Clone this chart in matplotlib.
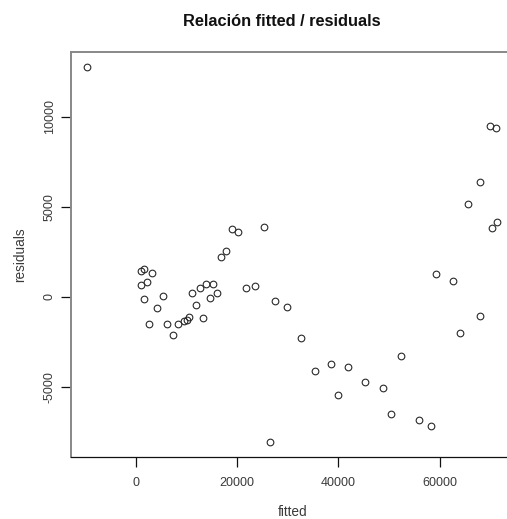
import numpy as np
import matplotlib
matplotlib.use("Agg")
import matplotlib.pyplot as plt

plt.rcParams["font.family"] = ["Liberation Sans", "DejaVu Sans"]

# Fitted values and residuals of the model
fitted = [-9535, 1066, 1579, 3237, 1066, 2250, 1579, 5330, 4145, 2566,
          6258, 7383, 8370, 9475, 10146, 10462, 11923, 13364, 11054, 12713,
          13956, 15279, 14608, 16128, 16858, 17845, 18950, 20273, 25405, 21714,
          23491, 27518, 29886, 26590, 32650, 35414, 38631, 41849, 39875, 45283,
          48758, 52449, 50337, 56003, 58234, 59359, 62715, 64037, 68044, 65616,
          68044, 70018, 71203, 71341, 70354]
residuals = [12763, 1445, 1539, 1333, 650, 833, -89, 56, -628, -1500,
             -1517, -2128, -1517, -1311, -1256, -1128, -444, -1167, 244, 500,
             722, 722, -33, 244, 2222, 2539, 3778, 3595, 3872, 500,
             611, -222, -533, -8056, -2295, -4111, -3739, -3889, -5423, -4700,
             -5056, -3295, -6462, -6834, -7145, 1278, 889, -2017, -1033, 5134,
             6356, 9501, 9390, 4150, 3834]

x_ticks = [0, 20000, 40000, 60000]
y_ticks = [-5000, 0, 5000, 10000]

W, H = 507, 519
fig = plt.figure(figsize=(W / 100, H / 100), dpi=100)
# plot region runs past the right edge of the image, as in the saved R device
ax = fig.add_axes([71 / W, (H - 457.3) / H, (513.5 - 71) / W, (457.3 - 51.7) / H])

ax.plot(fitted, residuals, linestyle="none", marker="o", markersize=4.8,
        markerfacecolor="none", markeredgecolor="#2a2a2a", markeredgewidth=0.8)

# R style 4% padding around the data range
def padded(v):
    lo, hi = min(v), max(v)
    d = 0.04 * (hi - lo)
    return lo - d, hi + d

ax.set_xlim(*padded(fitted))
ax.set_ylim(*padded(residuals))

ax.set_xticks(x_ticks)
ax.set_yticks(y_ticks)
ax.set_xticklabels([str(t) for t in x_ticks])
ax.set_yticklabels([str(t) for t in y_ticks], rotation=90, va="center")
ax.tick_params(axis="both", direction="out", length=7, width=0.9,
               color="#111111", labelsize=9, labelcolor="#3a3a3a")
ax.tick_params(axis="x", pad=7)
ax.tick_params(axis="y", pad=4)

for side in ["left", "top", "right"]:
    ax.spines[side].set_color("#888888")
    ax.spines[side].set_linewidth(1.4)
ax.spines["bottom"].set_color("#111111")
ax.spines["bottom"].set_linewidth(0.9)

ax.set_xlabel("fitted", fontsize=9.8, color="#3a3a3a", labelpad=12)
ax.set_ylabel("residuals", fontsize=9.8, color="#3a3a3a", labelpad=12)
fig.text(282 / W, 1 - 22 / H, "Relación fitted / residuals", ha="center",
         va="center", fontsize=11.8, fontweight="bold", color="#111111")

fig.savefig("out.png", dpi=100)
